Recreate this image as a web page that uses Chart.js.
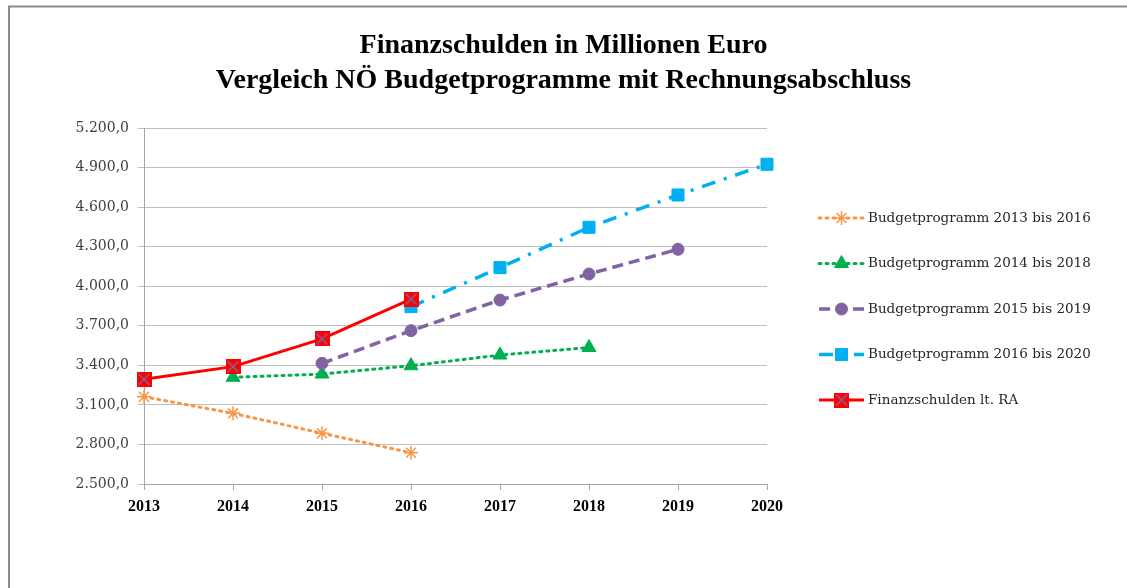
<!DOCTYPE html>
<html>
<head>
<meta charset="utf-8">
<script src="https://cdn.jsdelivr.net/npm/chart.js@4/dist/chart.umd.min.js"></script>
<style>
html,body{margin:0;padding:0;background:#fff;}
#wrap{width:1127px;height:588px;position:relative;}
</style>
</head>
<body>
<div id="wrap"><canvas id="c" width="1127" height="588"></canvas></div>
<script>
// ---- data ----
const years = ['2013','2014','2015','2016','2017','2018','2019','2020'];
const bp2013 = [3162, 3036, 2885, 2737, null, null, null, null];
const bp2014 = [null, 3309, 3334, 3397, 3478, 3535, null, null];
const bp2015 = [null, null, 3415, 3663, 3895, 4093, 4280, null];
const bp2016 = [null, null, null, 3845, 4141, 4447, 4692, 4925];
const raIst  = [3294, 3390, 3600, 3903, null, null, null, null];
const seriesNames = [
  'Budgetprogramm 2013 bis 2016',
  'Budgetprogramm 2014 bis 2018',
  'Budgetprogramm 2015 bis 2019',
  'Budgetprogramm 2016 bis 2020',
  'Finanzschulden lt. RA'
];
const titleLines = ['Finanzschulden in Millionen Euro', 'Vergleich NÖ Budgetprogramme mit Rechnungsabschluss'];
const yMin = 2500, yMax = 5200, yStep = 300;

// red square marker with x overlay
function makeRaMarker(){
  const s = 15, cv = document.createElement('canvas');
  cv.width = s; cv.height = s;
  const g = cv.getContext('2d');
  g.fillStyle = '#FF0000'; g.fillRect(0,0,s,s);
  g.strokeStyle = '#8064A2'; g.lineWidth = 1.5;
  g.beginPath(); g.moveTo(2,2); g.lineTo(s-2,s-2); g.moveTo(s-2,2); g.lineTo(2,s-2); g.stroke();
  return cv;
}
const raMarker = makeRaMarker();

function fmt(v){
  const s = Math.round(v).toString().replace(/\B(?=(\d{3})+(?!\d))/g,'.');
  return s + ',0';
}

const legendPlugin = {
  id: 'sideLegend',
  afterDraw(chart){
    const ctx = chart.ctx;
    const x0 = 819, x1 = 864, tx = 868, y0 = 218, dy = 45.5;
    chart.data.datasets.forEach((ds, i) => {
      const y = y0 + i*dy;
      ctx.save();
      ctx.strokeStyle = ds.borderColor;
      ctx.lineWidth = ds.borderWidth;
      ctx.lineCap = ds.borderCapStyle || 'butt';
      ctx.setLineDash(ds.borderDash || []);
      ctx.beginPath(); ctx.moveTo(x0, y); ctx.lineTo(x1, y); ctx.stroke();
      ctx.setLineDash([]);
      ctx.lineCap = 'butt';
      ctx.fillStyle = ds.pointBackgroundColor;
      ctx.strokeStyle = ds.pointBorderColor;
      ctx.lineWidth = ds.pointBorderWidth || 1;
      Chart.helpers.drawPoint(ctx, {
        pointStyle: ds.pointStyle, radius: ds.pointRadius, rotation: 0,
        borderWidth: ds.pointBorderWidth || 1
      }, (x0+x1)/2, y);
      ctx.restore();
      ctx.save();
      ctx.fillStyle = '#262626';
      ctx.font = '13.5px "DejaVu Serif"';
      ctx.textBaseline = 'middle';
      ctx.fillText(ds.label, tx, y);
      ctx.restore();
    });
  }
};

const borderPlugin = {
  id: 'frame',
  beforeDraw(chart){
    const ctx = chart.ctx;
    ctx.save();
    ctx.fillStyle = '#fff'; ctx.fillRect(0,0,chart.width,chart.height);
    ctx.strokeStyle = '#8c8c8c'; ctx.lineWidth = 2;
    ctx.beginPath(); ctx.moveTo(9, 588); ctx.lineTo(9, 6.5); ctx.lineTo(1127, 6.5); ctx.stroke();
    ctx.restore();
  }
};

new Chart(document.getElementById('c'), {
  type: 'line',
  data: {
    labels: years,
    datasets: [
      { label: seriesNames[0], data: bp2013, borderColor: '#F79646', backgroundColor: '#F79646',
        borderWidth: 3, borderDash: [2,5], borderCapStyle: 'round', pointStyle: 'star', pointRadius: 7,
        pointBorderColor: '#F79646', pointBackgroundColor: '#F79646', pointBorderWidth: 1.5, order: 4 },
      { label: seriesNames[1], data: bp2014, borderColor: '#00B050', backgroundColor: '#00B050',
        borderWidth: 3, borderDash: [2,5], borderCapStyle: 'round', pointStyle: 'triangle', pointRadius: 8,
        pointBorderColor: '#00B050', pointBackgroundColor: '#00B050', pointBorderWidth: 1, order: 3 },
      { label: seriesNames[2], data: bp2015, borderColor: '#8064A2', backgroundColor: '#8064A2',
        borderWidth: 3.5, borderDash: [11,6], pointStyle: 'circle', pointRadius: 6,
        pointBorderColor: '#8064A2', pointBackgroundColor: '#8064A2', pointBorderWidth: 1, order: 2 },
      { label: seriesNames[3], data: bp2016, borderColor: '#00B0F0', backgroundColor: '#00B0F0',
        borderWidth: 3.5, borderDash: [14,9,3,9], pointStyle: 'rect', pointRadius: 8.5,
        pointBorderColor: '#00B0F0', pointBackgroundColor: '#00B0F0', pointBorderWidth: 1, order: 1 },
      { label: seriesNames[4], data: raIst, borderColor: '#FF0000', backgroundColor: '#FF0000',
        borderWidth: 3, pointStyle: raMarker, pointRadius: 7.5,
        pointBorderColor: '#FF0000', pointBackgroundColor: '#FF0000', pointBorderWidth: 1, order: 0 }
    ]
  },
  options: {
    responsive: false,
    animation: false,
    spanGaps: false,
    layout: { padding: { left: 0, right: 0, top: 0, bottom: 64 } },
    plugins: {
      legend: { display: false },
      tooltip: { enabled: false },
      title: {
        display: true, text: titleLines, color: '#000',
        font: { family: '"Liberation Serif"', size: 28, weight: 'bold', lineHeight: 1.25 },
        padding: { top: 28, bottom: 30 }
      }
    },
    scales: {
      x: {
        type: 'category',
        offset: false,
        grid: { drawOnChartArea: false, drawTicks: true, tickLength: 6, color: '#A6A6A6' },
        border: { color: '#A6A6A6', width: 1 },
        ticks: { color: '#000', font: { family: '"Liberation Serif"', size: 16, weight: 'bold' }, padding: 7, maxRotation: 0, autoSkip: false },
        afterFit(s){ s.height = 40; }
      },
      y: {
        min: yMin, max: yMax,
        grid: { color: '#BFBFBF', lineWidth: 1, drawTicks: true, tickLength: 6 },
        border: { color: '#A6A6A6', width: 1 },
        ticks: { stepSize: yStep, color: '#404040', font: { family: '"DejaVu Serif"', size: 14 }, padding: 9,
                 callback: (v) => fmt(v) },
        afterFit(s){ s.width = 144; }
      },
      ySpace: {
        position: 'right', display: true,
        grid: { display: false, drawOnChartArea: false, drawTicks: false },
        border: { display: false },
        ticks: { display: false },
        afterFit(s){ s.width = 360; }
      }
    }
  },
  plugins: [borderPlugin, legendPlugin]
});
</script>
</body>
</html>
